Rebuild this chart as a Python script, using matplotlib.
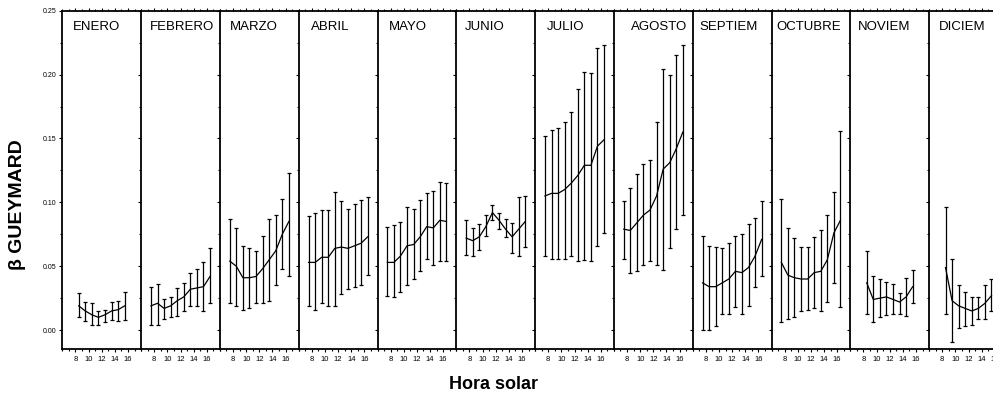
import numpy as np
import matplotlib.pyplot as plt
from matplotlib.ticker import MultipleLocator, FixedLocator, NullFormatter

plt.rcParams['font.family'] = ['Liberation Sans', 'DejaVu Sans']

meses = ['ENERO', 'FEBRERO', 'MARZO', 'ABRIL', 'MAYO', 'JUNIO', 'JULIO',
         'AGOSTO', 'SEPTIEM', 'OCTUBRE', 'NOVIEM', 'DICIEM']

# centro de cada intervalo horario
horas_corto = [8.5, 9.5, 10.5, 11.5, 12.5, 13.5, 14.5, 15.5]
horas_largo = [7.5, 8.5, 9.5, 10.5, 11.5, 12.5, 13.5, 14.5, 15.5, 16.5]
horas = [horas_corto] + [horas_largo] * 9 + [horas_corto] * 2

# beta medio por hora y extremos de la barra
media = [
    [0.019, 0.015, 0.012, 0.010, 0.012, 0.015, 0.016, 0.019],
    [0.019, 0.021, 0.017, 0.019, 0.023, 0.026, 0.032, 0.033, 0.034, 0.042],
    [0.054, 0.050, 0.041, 0.041, 0.042, 0.048, 0.055, 0.062, 0.075, 0.085],
    [0.053, 0.053, 0.057, 0.057, 0.064, 0.065, 0.064, 0.066, 0.068, 0.073],
    [0.053, 0.053, 0.058, 0.066, 0.067, 0.073, 0.081, 0.080, 0.086, 0.085],
    [0.072, 0.070, 0.073, 0.081, 0.092, 0.086, 0.079, 0.073, 0.079, 0.085],
    [0.105, 0.107, 0.107, 0.110, 0.115, 0.121, 0.129, 0.129, 0.144, 0.149],
    [0.079, 0.078, 0.084, 0.090, 0.094, 0.105, 0.126, 0.131, 0.142, 0.155],
    [0.037, 0.034, 0.034, 0.037, 0.040, 0.046, 0.045, 0.049, 0.058, 0.071],
    [0.053, 0.043, 0.041, 0.040, 0.040, 0.045, 0.046, 0.055, 0.076, 0.086],
    [0.037, 0.024, 0.025, 0.026, 0.024, 0.022, 0.026, 0.034],
    [0.049, 0.023, 0.019, 0.017, 0.015, 0.017, 0.021, 0.027],
]
superior = [
    [0.029, 0.022, 0.021, 0.015, 0.016, 0.022, 0.023, 0.030],
    [0.034, 0.036, 0.024, 0.026, 0.033, 0.037, 0.045, 0.048, 0.053, 0.064],
    [0.087, 0.080, 0.066, 0.064, 0.062, 0.074, 0.087, 0.090, 0.103, 0.123],
    [0.089, 0.092, 0.094, 0.094, 0.108, 0.101, 0.095, 0.099, 0.102, 0.104],
    [0.081, 0.082, 0.085, 0.096, 0.095, 0.102, 0.107, 0.109, 0.116, 0.115],
    [0.086, 0.080, 0.083, 0.090, 0.098, 0.092, 0.087, 0.084, 0.104, 0.105],
    [0.152, 0.157, 0.158, 0.163, 0.171, 0.189, 0.202, 0.201, 0.221, 0.223],
    [0.101, 0.111, 0.122, 0.130, 0.133, 0.163, 0.204, 0.200, 0.215, 0.223],
    [0.074, 0.066, 0.065, 0.064, 0.068, 0.074, 0.075, 0.083, 0.088, 0.101],
    [0.103, 0.080, 0.072, 0.065, 0.065, 0.073, 0.078, 0.090, 0.108, 0.156],
    [0.062, 0.042, 0.040, 0.038, 0.036, 0.029, 0.041, 0.047],
    [0.096, 0.056, 0.035, 0.030, 0.026, 0.026, 0.035, 0.040],
]
inferior = [
    [0.010, 0.007, 0.004, 0.004, 0.006, 0.008, 0.007, 0.008],
    [0.004, 0.004, 0.009, 0.010, 0.011, 0.015, 0.019, 0.019, 0.015, 0.021],
    [0.021, 0.019, 0.016, 0.017, 0.021, 0.021, 0.023, 0.035, 0.048, 0.042],
    [0.019, 0.016, 0.021, 0.019, 0.019, 0.028, 0.032, 0.034, 0.035, 0.043],
    [0.027, 0.026, 0.030, 0.035, 0.040, 0.046, 0.056, 0.051, 0.054, 0.054],
    [0.059, 0.058, 0.063, 0.074, 0.086, 0.079, 0.073, 0.060, 0.058, 0.065],
    [0.058, 0.056, 0.056, 0.056, 0.058, 0.054, 0.055, 0.054, 0.066, 0.076],
    [0.056, 0.045, 0.046, 0.051, 0.054, 0.051, 0.047, 0.064, 0.079, 0.090],
    [0.000, 0.000, 0.003, 0.013, 0.013, 0.018, 0.013, 0.019, 0.034, 0.042],
    [0.006, 0.009, 0.010, 0.015, 0.016, 0.017, 0.015, 0.022, 0.037, 0.018],
    [0.013, 0.006, 0.010, 0.012, 0.013, 0.013, 0.011, 0.021],
    [0.013, -0.009, 0.002, 0.003, 0.004, 0.009, 0.009, 0.015],
]

pos_etiqueta = [0.13, 0.11, 0.13, 0.15, 0.15, 0.11, 0.15, 0.22, 0.08, 0.06, 0.10, 0.13]

fig = plt.figure(figsize=(9.93, 3.98), dpi=100)
x0, ancho = 62.3 / 993, 78.8 / 993
y0, alto = 0.1224, 0.8508

for i, mes in enumerate(meses):
    ax = fig.add_axes([x0 + i * ancho, y0, ancho, alto])
    h = np.array(horas[i])
    m = np.array(media[i])
    lo = np.array(inferior[i])
    hi = np.array(superior[i])
    ax.errorbar(h, m, yerr=[m - lo, hi - m], fmt='none', ecolor='black',
                elinewidth=0.9, capsize=1.6, capthick=0.9)
    ax.plot(h, m, color='black', lw=0.9)

    ax.set_xlim(6, 18)
    ax.set_ylim(-0.015, 0.25)
    ax.text(pos_etiqueta[i], 0.952, mes, transform=ax.transAxes,
            fontsize=9.5, va='center', ha='left')

    for lado in ['left', 'top', 'bottom']:
        ax.spines[lado].set_linewidth(1.3)
    ax.spines['right'].set_visible(False)

    ax.xaxis.set_major_locator(FixedLocator([8, 10, 12, 14, 16]))
    ax.xaxis.set_minor_locator(MultipleLocator(1))
    ax.yaxis.set_major_locator(MultipleLocator(0.05))
    ax.yaxis.set_minor_locator(MultipleLocator(0.025))
    ax.tick_params(axis='x', which='major', direction='out', length=2,
                   width=0.8, labelsize=5.5, pad=2.5, top=True)
    ax.tick_params(axis='x', which='minor', direction='out', length=1.5,
                   width=0.8, top=True)
    ax.tick_params(axis='y', which='major', direction='out', length=2.5,
                   width=0.8, labelsize=5, pad=1.5)
    ax.tick_params(axis='y', which='minor', direction='out', length=1.5,
                   width=0.8)
    if i == 0:
        ax.yaxis.set_major_formatter(lambda v, p: f'{v:.2f}')
    else:
        ax.tick_params(axis='y', labelleft=False)

fig.text(0.018, 0.485, 'β GUEYMARD', rotation=90, fontsize=14,
         fontweight='bold', ha='center', va='center')
fig.text(0.4965, 0.035, 'Hora solar', fontsize=13, fontweight='bold',
         ha='center', va='center')

fig.savefig('out.png', dpi=100)
